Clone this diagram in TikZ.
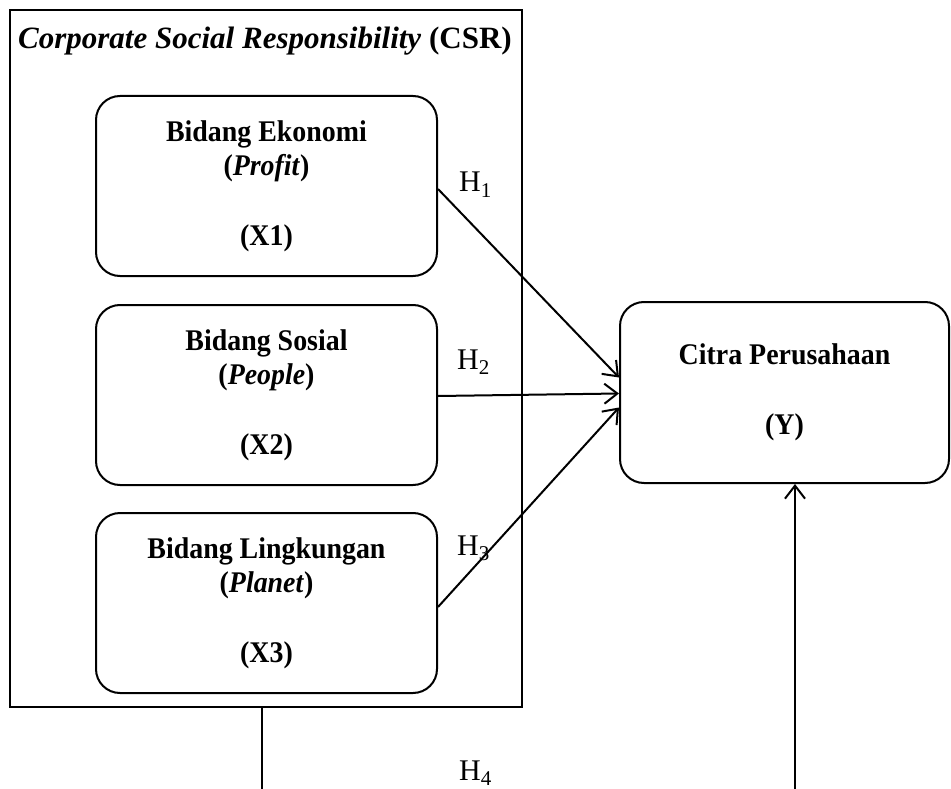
\documentclass[tikz,border=0pt]{standalone}
\usepackage{fontspec}
\setmainfont{Liberation Serif}
\newfontfamily\boxfont[FakeStretch=0.93]{Liberation Serif}
\usetikzlibrary{arrows.meta, positioning}

\begin{document}
\begin{tikzpicture}[x=1pt, y=-1pt,
    frame/.style={draw, line width=2pt, inner sep=0pt},
    varbox/.style={draw, line width=2pt, rounded corners=24pt, minimum width=341pt, minimum height=180pt, align=center, inner sep=0pt, font=\boxfont\bfseries\fontsize{30}{34}\selectfont},
    hlab/.style={anchor=base west, inner sep=0pt, font=\fontsize{30}{34}\selectfont},
    link/.style={line width=2pt, -{Straight Barb[length=13pt, width=20pt, line width=2pt]}}]
    \useasboundingbox (0,0) rectangle (951,789);
    % CSR frame
    \node[frame, minimum width=512pt, minimum height=697pt] (csr) at (266,358.5) {};
    \node[anchor=base west, inner sep=0pt, font=\bfseries\fontsize{31}{34}\selectfont] (csrtitle) at (18,49) {\textit{Corporate Social Responsibility} (CSR)};
    % independent variables
    \node[varbox] (x1) at (266.5,186) {Bidang Ekonomi\\(\textit{Profit})\\[36pt](X1)};
    \node[varbox] (x2) at (266.5,395) {Bidang Sosial\\(\textit{People})\\[36pt](X2)};
    \node[varbox] (x3) at (266.5,603) {Bidang Lingkungan\\(\textit{Planet})\\[36pt](X3)};
    % dependent variable
    \node[varbox, minimum width=329pt, minimum height=181pt] (cp) at (784.5,392.5) {Citra Perusahaan\\[36pt](Y)};
    % hypotheses
    \draw[link] ([yshift=-3pt]x1.east) -- ([yshift=15pt]cp.west);
    \draw[link] ([yshift=-1pt]x2.east) -- ([yshift=-1pt]cp.west);
    \draw[link] ([yshift=-4pt]x3.east) -- ([yshift=-15pt]cp.west);
    \coordinate (b1) at (262,789);
    \coordinate (b2) at (795,789);
    \draw[line width=2pt] (csr.south -| b1) -- (b1);
    \draw[link] (b2) -- (b2 |- cp.south);
    \node[hlab] (h1) at (459,192) {H\textsubscript{1}};
    \node[hlab] (h2) at (457,369) {H\textsubscript{2}};
    \node[hlab] (h3) at (457,555) {H\textsubscript{3}};
    \node[hlab] (h4) at (459,780) {H\textsubscript{4}};
\end{tikzpicture}
\end{document}
